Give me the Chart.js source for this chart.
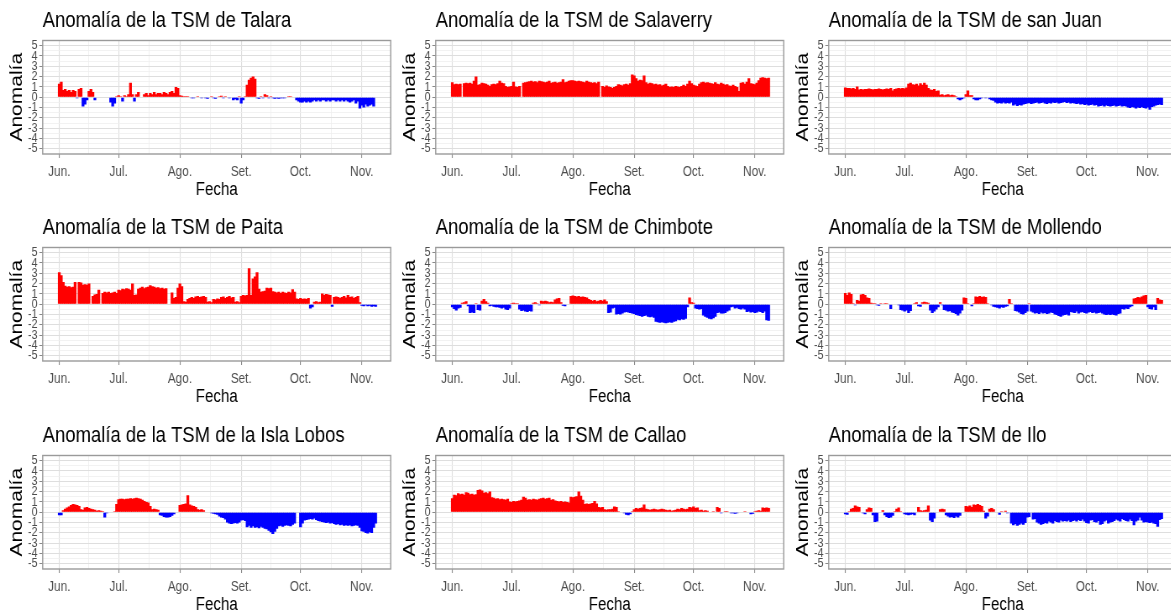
<!DOCTYPE html>
<html>
<head>
<meta charset="utf-8">
<script src="https://cdn.jsdelivr.net/npm/chart.js@4.4.0/dist/chart.umd.min.js"></script>
<style>
  html, body { margin: 0; padding: 0; background: #fff; }
  body { width: 1171px; height: 615px; position: relative; overflow: hidden; }
  .panel { position: absolute; width: 468px; height: 207px; transform: scaleX(0.84); transform-origin: 0 0; }
</style>
</head>
<body>
<script>
// Anomalía diaria de la TSM (°C), 1 de junio (día 0) al 8 de noviembre (día 160)
const talara = [1.3,1.5,0.7,0.8,0.6,0.7,0.5,0.7,0.6,-0.1,0.8,0.9,-0.9,-0.7,-0.3,0.6,0.8,0.5,-0.3,
  null,null,null,null,null,null,null,-0.5,-0.9,-0.6,0.1,0.2,0.1,-0.4,0.2,0.1,0.3,1.4,0.3,-0.4,0.3,0.5,
  null,null,0.3,0.4,0.2,0.4,0.3,0.5,0.3,0.4,0.4,0.3,0.5,0.4,0.3,0.5,0.6,0.4,1.0,0.9,0.2,0.15,0.1,0.1,
  0.1,0.05,-0.1,-0.1,0.05,0.1,-0.05,-0.1,0.05,-0.1,-0.15,0.05,0.1,-0.1,-0.15,0.05,0.1,0.15,-0.1,0.1,0.05,-0.1,0.05,
  -0.3,-0.2,-0.3,0.1,-0.6,-0.3,0.1,1.2,1.7,1.9,2.0,1.8,
  -0.1,-0.15,0.1,-0.1,0.3,0.2,-0.1,0.1,-0.1,-0.15,-0.1,-0.15,-0.1,-0.1,-0.1,-0.05,0.1,0.1,0.05,-0.05,
  -0.3,-0.4,-0.5,-0.5,-0.4,-0.5,-0.4,-0.5,-0.4,-0.3,-0.4,-0.3,-0.4,-0.3,-0.3,-0.4,-0.3,-0.4,-0.3,-0.3,-0.4,-0.3,-0.4,-0.3,-0.4,-0.3,-0.4,-0.5,-0.4,-0.3,-0.6,-0.4,
  -1.1,-0.8,-1.0,-0.7,-0.9,-0.8,-0.7,-0.9];

const salaverry = [1.45,1.25,1.3,1.25,1.3,null,1.35,1.4,1.35,1.4,1.3,1.6,2.0,
  1.2,1.25,1.4,1.35,1.3,1.2,1.1,1.25,1.3,1.25,1.35,1.6,1.4,1.35,1.1,1.0,1.05,1.1,1.5,1.05,1.0,1.1,null,
  1.4,1.45,1.5,1.55,1.6,1.5,1.55,1.45,1.6,1.55,1.5,1.45,1.5,1.6,1.4,1.45,1.5,1.4,1.45,1.5,1.75,
  1.45,1.5,1.6,1.65,1.65,1.6,1.55,1.6,1.55,1.5,1.45,1.6,1.5,1.45,1.4,1.45,1.35,1.5,null,
  1.1,1.0,1.15,1.05,1.0,0.9,1.0,1.1,1.25,1.2,1.15,1.25,1.3,1.2,1.35,2.2,2.1,1.85,1.6,1.7,1.65,2.1,
  1.45,1.3,1.4,1.35,1.25,1.3,1.2,1.25,1.15,1.2,1.3,1.1,1.0,1.05,1.0,1.1,1.05,1.0,1.1,1.2,1.1,1.3,1.6,
  1.35,1.2,1.15,1.1,1.3,1.45,1.5,1.4,1.45,1.4,1.35,1.3,1.45,1.3,1.25,1.4,1.3,1.2,1.25,
  1.15,1.1,1.2,1.1,1.0,0.6,1.4,1.45,1.3,1.5,1.85,1.35,1.3,1.25,1.4,1.65,1.9,1.95,1.9,1.85,1.9];

const sanJuan = [0.95,0.9,0.9,0.85,0.9,0.8,1.05,
  0.75,0.8,0.75,0.8,0.8,0.85,0.8,0.75,0.8,0.8,0.85,0.8,0.75,0.8,0.85,0.8,0.9,0.65,
  0.8,0.85,0.9,0.85,0.9,0.85,0.95,1.3,1.4,1.25,1.2,1.3,1.15,1.35,1.2,1.4,1.2,
  0.9,0.75,0.7,0.8,0.6,0.65,0.25,0.3,0.2,0.25,0.3,0.2,0.25,0.2,0.1,-0.2,-0.3,-0.2,-0.1,0.3,0.65,0.2,0.2,
  -0.2,-0.3,-0.3,-0.2,-0.1,-0.05,-0.1,0.05,-0.2,-0.3,-0.35,
  -0.5,-0.6,-0.55,-0.6,-0.5,-0.6,-0.55,-0.6,-0.5,-0.8,-0.7,-0.85,-0.75,-0.8,-0.7,-0.65,
  -0.6,-0.55,-0.65,-0.6,-0.55,-0.5,-0.6,-0.55,-0.5,-0.6,-0.65,-0.55,-0.6,-0.5,-0.55,-0.5,-0.6,-0.55,-0.5,-0.45,-0.55,-0.5,-0.6,-0.55,-0.6,-0.65,-0.6,
  -0.7,-0.65,-0.75,-0.7,-0.8,-0.75,-0.7,-0.8,-0.75,
  -0.9,-0.85,-0.8,-0.9,-0.8,-0.85,-0.9,-0.85,-0.8,-0.9,-0.85,-0.8,-0.9,-0.85,-0.9,
  -1.0,-1.05,-0.95,-1.0,-1.1,-1.0,-1.05,-0.95,-1.05,-1.1,-1.0,-1.2,-0.95,-0.9,-0.8,-0.75,-0.7,-0.75];

const paita = [3.1,2.8,2.15,1.8,1.7,1.75,1.65,1.7,2.15,null,2.15,2.1,1.9,1.95,1.9,2.0,null,
  0.8,0.95,1.0,1.4,null,1.1,1.2,1.15,1.2,1.1,1.15,1.2,1.1,1.4,1.35,1.5,1.45,1.55,1.5,1.4,2.0,0.9,0.95,
  1.5,1.6,1.7,1.55,1.65,1.7,1.85,1.75,1.7,1.6,1.65,1.55,1.6,1.5,1.55,null,null,1.15,0.6,0.7,1.6,2.0,1.75,0.3,0.25,
  0.5,0.6,0.7,0.6,0.75,0.8,0.7,0.75,0.8,0.7,0.25,0.3,0.2,0.5,0.45,0.55,0.5,0.7,0.75,0.6,0.7,0.8,0.65,0.7,
  0.25,0.3,0.2,0.8,0.9,0.85,0.9,3.5,0.9,2.5,2.7,3.1,1.5,1.2,1.25,1.3,1.6,1.55,1.6,
  1.25,1.2,1.15,1.2,1.1,1.2,1.15,1.1,1.2,1.15,1.45,1.2,0.55,0.5,0.6,0.5,0.55,0.5,0.6,-0.4,-0.3,
  0.25,0.3,0.2,0.25,1.05,0.9,1.0,0.95,0.9,-0.25,0.7,0.75,0.7,0.6,0.7,0.8,0.65,0.9,0.7,0.75,0.6,0.7,0.8,0.2,
  -0.15,-0.2,-0.1,-0.2,-0.15,-0.25,-0.2,-0.25];

const chimbote = [-0.3,-0.45,-0.6,-0.4,-0.35,0.15,0.2,0.3,-0.2,-0.85,-0.8,-0.85,0.1,-0.55,-0.6,0.35,0.5,0.3,0.15,
  -0.2,-0.15,-0.25,-0.3,-0.3,-0.35,-0.4,-0.35,-0.5,-0.55,-0.4,0.1,0.15,0.1,0.1,
  -0.5,-0.65,-0.6,-0.7,-0.75,-0.65,-0.7,0.15,0.2,0.1,-0.1,0.35,0.3,0.35,0.3,0.2,0.25,0.2,0.45,0.55,0.6,0.2,
  -0.15,-0.2,0.05,0.05,0.8,0.85,0.8,0.75,0.8,0.7,0.75,0.7,0.65,0.5,0.4,0.35,0.4,0.3,0.35,0.4,0.35,0.45,0.3,
  -0.85,-0.8,-0.4,-0.35,-1.0,-0.95,-1.0,-0.9,-0.8,-0.75,-0.8,-0.85,-0.9,-0.95,
  -1.05,-1.1,-1.15,-1.2,-1.15,-1.1,-1.2,-1.25,-1.2,-1.3,
  -1.7,-1.75,-1.8,-1.75,-1.8,-1.85,-1.8,-1.75,-1.8,-1.7,-1.65,-1.5,-1.55,-1.45,-1.5,-1.4,
  -0.3,0.65,0.2,0.15,-0.4,-0.45,-0.5,-0.45,-1.1,-1.2,-1.3,-1.4,-1.45,-1.35,-1.2,-0.85,-0.8,-0.9,
  -0.9,-0.85,-0.7,-0.6,-0.3,-0.25,-0.4,-0.35,-0.45,-0.5,-0.4,-0.5,
  -0.75,-0.7,-0.8,-0.75,-0.85,-0.8,-0.7,-0.75,-0.85,-0.7,-1.55,-1.6];

const mollendo = [1.1,0.9,1.15,1.0,0.1,-0.1,0.4,0.35,0.95,1.0,0.9,0.65,0.6,0.15,0.1,0.1,-0.1,-0.15,
  0.1,0.05,0.1,0.1,0.05,-0.45,0.05,-0.05,0.05,-0.1,-0.55,-0.6,-0.7,-0.6,-0.85,-0.65,0.05,0.1,0.2,-0.2,-0.25,
  0.2,0.25,0.2,0.15,-0.6,-0.85,-0.7,-0.5,-0.3,0.2,-0.1,
  -0.55,-0.6,-0.7,-0.65,-0.8,-0.85,-0.95,-1.1,-0.9,-0.6,0.65,0.6,0.1,0.05,-0.2,0.1,
  0.75,0.7,0.8,0.7,0.75,0.7,0.1,0.05,-0.1,-0.25,-0.3,-0.35,-0.4,-0.3,-0.35,-0.25,-0.2,0.5,0.1,0.05,
  -0.65,-0.7,-0.8,-0.95,-1.0,-0.85,-0.7,0.1,
  -0.7,-0.8,-0.9,-0.85,-0.95,-0.8,-0.9,-0.85,-0.95,-0.9,-0.8,-0.85,
  -1.0,-1.05,-1.15,-1.2,-1.1,-1.05,-1.0,-1.1,
  -0.75,-0.8,-0.85,-0.7,-0.9,-0.8,-0.75,-0.85,-0.9,-0.8,-0.75,-0.85,-0.8,-0.9,-0.85,-0.8,-0.9,
  -1.0,-1.05,-1.0,-1.05,-1.0,-1.05,-1.1,-0.95,-0.9,-0.45,-0.5,-0.4,-0.45,-0.3,-0.2,
  0.55,0.6,0.7,0.65,0.75,0.85,0.9,-0.3,-0.45,-0.5,-0.3,-0.55,0.6,0.45,0.4];

const islaLobos = [-0.3,-0.3,0.2,0.35,0.45,0.55,0.7,0.8,0.75,0.7,0.6,0.3,0.25,0.45,0.5,0.4,0.35,0.3,0.25,
  0.15,0.2,0.15,0.1,-0.5,-0.1,null,null,0.05,0.1,0.8,1.25,1.3,1.3,1.25,1.3,1.3,1.35,1.3,1.35,
  1.4,1.35,1.3,1.2,1.1,1.0,0.95,0.6,0.3,0.35,0.3,0.25,-0.3,-0.35,-0.45,-0.5,-0.5,-0.45,-0.35,-0.2,null,null,
  0.7,0.75,0.8,0.85,1.65,0.75,0.65,0.6,0.5,0.3,0.25,0.3,0.2,null,null,null,
  -0.1,-0.15,-0.2,-0.25,-0.4,-0.5,-0.55,-0.7,-1.0,-1.1,-1.15,-1.1,-1.05,-1.1,-1.0,-0.8,-0.75,-0.85,
  -1.45,-1.3,-1.5,-1.35,-1.5,-1.45,-1.55,-1.4,-1.5,-1.6,-1.65,-1.8,-1.95,-2.1,-1.9,-1.6,
  -1.35,-1.3,-1.4,-1.3,-1.25,-1.3,-1.35,-1.2,-1.1,null,null,-1.45,-1.1,-0.8,
  -0.75,-0.7,-0.65,-0.7,-0.6,-0.75,-0.85,-0.9,-0.95,-1.0,-1.05,-1.0,-1.1,-1.05,
  -1.15,-1.2,-1.15,-1.25,-1.2,-1.3,-1.25,-1.3,-1.25,-1.35,-1.3,-1.25,-1.3,-1.5,
  -1.85,-1.9,-2.0,-2.05,-1.95,-2.0,-1.5,-1.1];

const callao = [1.35,1.7,1.65,1.85,1.75,1.8,1.7,1.95,1.9,1.75,1.8,1.7,1.75,2.15,2.2,2.1,1.9,1.95,1.85,2.0,
  1.45,1.4,1.3,1.35,1.25,1.3,1.25,1.2,1.3,1.05,1.0,1.1,1.05,1.1,1.15,1.2,1.5,1.4,
  1.2,1.25,1.2,1.3,1.25,1.2,1.3,1.35,1.4,1.3,1.35,1.4,1.2,1.25,1.15,
  1.1,1.05,1.1,1.0,1.05,1.0,0.95,1.5,1.45,1.5,1.55,2.0,1.6,1.2,0.8,0.85,0.8,0.85,0.9,1.1,0.85,
  0.5,0.45,0.5,0.3,0.25,0.3,0.3,0.35,0.55,0.5,0.1,0.05,-0.05,-0.1,-0.25,-0.3,-0.2,0.1,
  0.3,0.4,0.35,0.4,0.45,0.75,0.35,0.3,0.25,0.3,0.35,0.3,0.25,0.3,0.35,0.3,0.25,
  0.2,0.25,0.15,0.2,0.25,0.35,0.3,0.4,0.35,0.3,0.35,0.5,0.45,0.55,0.4,0.45,
  0.2,0.25,0.15,0.2,0.15,0.05,0.05,0.1,0.05,0.5,0.4,-0.1,-0.05,0.1,0.1,0.05,
  -0.1,-0.1,-0.15,-0.1,0.05,-0.05,0.05,0.1,-0.05,0.05,-0.2,-0.15,0.1,0.15,0.2,0.15,0.45,0.4,0.45,0.4];

const ilo = [-0.2,-0.25,0.1,0.35,0.4,0.65,0.55,0.5,0.05,-0.1,-0.2,0.3,0.45,0.4,-0.3,-0.95,-0.9,0.05,-0.05,0.2,
  -0.3,-0.45,-0.55,-0.5,-0.35,0.1,0.35,0.45,0.1,-0.05,-0.2,-0.25,-0.3,-0.25,-0.2,-0.3,0.05,0.5,
  0.2,0.15,0.2,0.25,0.65,-0.8,-0.95,-0.6,0.05,-0.05,0.3,0.35,0.3,
  -0.3,-0.4,-0.5,-0.45,-0.55,-0.4,-0.5,-0.35,null,0.05,0.6,0.55,0.65,0.5,0.75,0.7,0.8,0.7,0.6,0.15,
  -0.6,-0.4,0.35,0.4,0.3,null,0.05,-0.25,0.1,0.05,0.15,-0.1,-0.05,
  -1.1,-1.25,-1.15,-1.3,-1.2,-1.1,-1.2,-1.05,-0.5,-0.45,-0.05,-0.7,-0.65,
  -1.0,-1.1,-1.2,-1.15,-1.05,-1.1,-0.9,-1.0,-1.1,-0.85,-0.95,-1.0,-0.8,-0.9,
  -0.85,-0.9,-0.8,-0.95,-0.85,-0.8,-0.9,-0.75,-0.85,-0.7,-0.9,-1.05,-1.1,-0.8,-0.75,-0.95,-1.0,
  -0.85,-1.2,-1.15,-0.9,-0.8,-1.1,-1.0,-0.95,-0.85,-0.7,-0.8,-0.9,-0.65,-0.75,-0.85,-0.9,-0.7,
  -0.85,-1.25,-0.9,-0.8,-0.5,-0.8,-1.0,-0.95,-1.0,-1.05,-1.0,-1.1,-1.15,-1.4,-0.75,-0.65];

const stations = ['Talara', 'Salaverry', 'san Juan', 'Paita', 'Chimbote', 'Mollendo', 'la Isla Lobos', 'Callao', 'Ilo'];
const series = [talara, salaverry, sanJuan, paita, chimbote, mollendo, islaLobos, callao, ilo];

// ejes
const monthDays = [0, 30, 61, 92, 122, 153];
const monthLabels = ['Jun.', 'Jul.', 'Ago.', 'Set.', 'Oct.', 'Nov.'];
const minorDays = [15, 45.5, 76.5, 107, 137.5];
const yTicks = [-5, -4.5, -4, -3.5, -3, -2.5, -2, -1.5, -1, -0.5, 0, 0.5, 1, 1.5, 2, 2.5, 3, 3.5, 4, 4.5, 5];

const FONT = '"Liberation Sans", Arial, sans-serif';

const isMonth = c => !!c.tick && monthDays.includes(c.tick.value);
const isUnit = c => !!c.tick && Number.isInteger(c.tick.value);

// título y marco del panel
const panelDeco = {
    id: 'panelDeco',
    afterDatasetsDraw(chart) {
        const { ctx, chartArea: a } = chart;
        ctx.save();
        ctx.strokeStyle = '#9a9a9a';
        ctx.lineWidth = 1.4;
        ctx.strokeRect(a.left, a.top, a.right - a.left, a.bottom - a.top);
        ctx.restore();
    },
    afterDraw(chart, args, opts) {
        const { ctx, chartArea: a } = chart;
        ctx.save();
        ctx.font = '22px ' + FONT;
        ctx.fillStyle = '#000';
        ctx.textBaseline = 'alphabetic';
        ctx.fillText(opts.text, a.left, 27);
        ctx.restore();
    }
};

series.forEach((vals, k) => {
    const col = k % 3, row = Math.floor(k / 3);
    const div = document.createElement('div');
    div.className = 'panel';
    div.style.left = (col * 393) + 'px';
    div.style.top = [0, 207, 415][row] + 'px';
    const canvas = document.createElement('canvas');
    canvas.width = 468;
    canvas.height = 207;
    div.appendChild(canvas);
    document.body.appendChild(div);

    new Chart(canvas, {
        type: 'bar',
        data: {
            datasets: [{
                data: vals.map((v, i) => ({ x: i, y: v })),
                backgroundColor: c => (c.raw && c.raw.y < 0) ? '#0000FF' : '#FF0000',
                borderWidth: 0,
                barPercentage: 1.4,
                categoryPercentage: 1
            }]
        },
        options: {
            responsive: false,
            animation: false,
            events: [],
            layout: { padding: { left: 0, top: 40.5, right: 2.9, bottom: 0 } },
            plugins: {
                legend: { display: false },
                tooltip: { enabled: false },
                panelDeco: { text: 'Anomalía de la TSM de ' + stations[k] }
            },
            scales: {
                x: {
                    type: 'linear',
                    offset: false,
                    min: -8.4,
                    max: 167.6,
                    afterBuildTicks: axis => {
                        axis.ticks = monthDays.concat(minorDays).sort((a, b) => a - b).map(v => ({ value: v }));
                    },
                    afterFit: s => { s.height = 53; },
                    ticks: {
                        autoSkip: false,
                        maxRotation: 0,
                        padding: 6,
                        color: '#4d4d4d',
                        font: { family: FONT, size: 14 },
                        callback: v => {
                            const i = monthDays.indexOf(v);
                            return i >= 0 ? monthLabels[i] : '';
                        }
                    },
                    grid: {
                        offset: false,
                        color: c => isMonth(c) ? '#dedede' : '#efefef',
                        lineWidth: c => isMonth(c) ? 1.1 : 0.9,
                        tickColor: c => isMonth(c) ? '#8a8a8a' : 'rgba(0,0,0,0)',
                        tickLength: 4
                    },
                    border: { display: false },
                    title: {
                        display: true,
                        text: 'Fecha',
                        color: '#000',
                        font: { family: FONT, size: 18 },
                        padding: { top: 0, bottom: 6 }
                    }
                },
                y: {
                    min: -5.5,
                    max: 5.5,
                    afterBuildTicks: axis => {
                        axis.ticks = yTicks.map(v => ({ value: v }));
                    },
                    afterFit: s => { s.width = 50.8; },
                    ticks: {
                        autoSkip: false,
                        padding: 2,
                        color: '#4d4d4d',
                        font: { family: FONT, size: 13 },
                        callback: v => Number.isInteger(v) ? String(v) : ''
                    },
                    grid: {
                        color: c => isUnit(c) ? '#dedede' : '#efefef',
                        lineWidth: c => isUnit(c) ? 1 : 0.8,
                        tickColor: c => isUnit(c) ? '#8a8a8a' : 'rgba(0,0,0,0)',
                        tickLength: 4
                    },
                    border: { display: false },
                    title: {
                        display: true,
                        text: 'Anomalía',
                        color: '#000',
                        font: { family: FONT, size: 21 },
                        padding: { top: 8, bottom: 0 }
                    }
                }
            }
        },
        plugins: [panelDeco]
    });
});
</script>
</body>
</html>
